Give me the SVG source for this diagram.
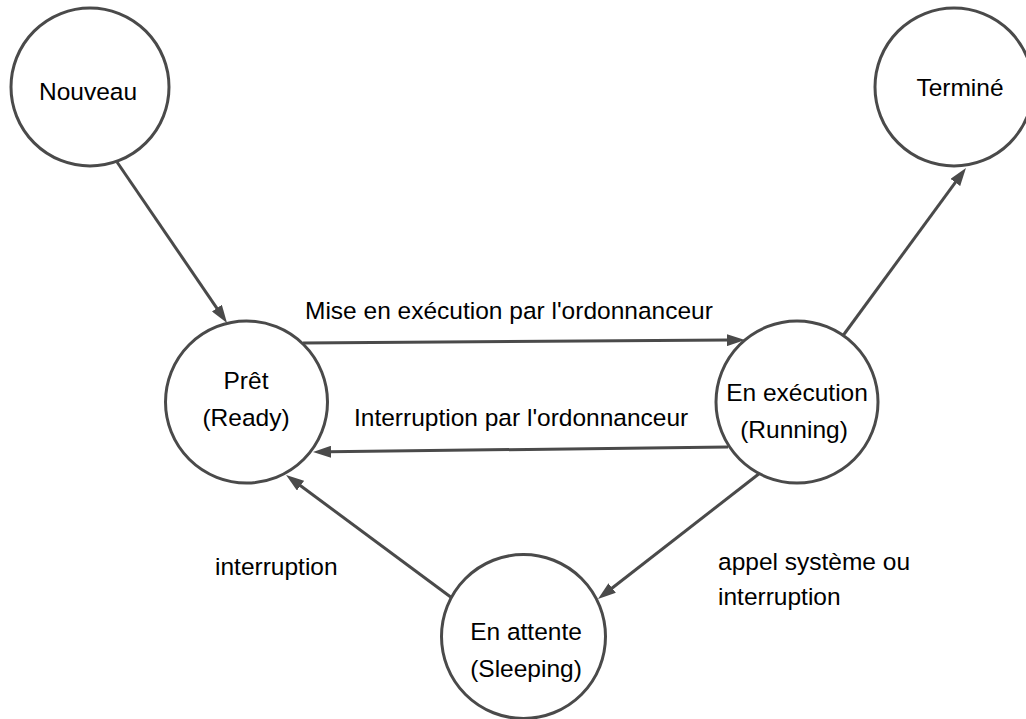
<svg xmlns="http://www.w3.org/2000/svg" width="1026" height="719" viewBox="0 0 1026 719">
<defs>
<style>
.node{fill:#fff;stroke:#4a4a4a;stroke-width:3}
.edge{fill:none;stroke:#4a4a4a;stroke-width:3}
text{font-family:"Liberation Sans",Arial,Helvetica,sans-serif;font-size:24.5px;fill:#000}
.c{text-anchor:middle}
</style>
<marker id="arr" markerUnits="userSpaceOnUse" markerWidth="18" markerHeight="12" refX="2" refY="6" orient="auto" viewBox="0 0 18 12">
<path d="M0,0 L18,6 L0,12 z" fill="#4a4a4a"/>
</marker>
</defs>
<rect width="1026" height="719" fill="#fff"/>
<g id="connectors">
<line class="edge" x1="117" y1="162" x2="218" y2="309.8" marker-end="url(#arr)"/>
<line class="edge" x1="842" y1="337" x2="956.5" y2="180.9" marker-end="url(#arr)"/>
<line class="edge" x1="452" y1="598" x2="298.9" y2="484.5" marker-end="url(#arr)"/>
<line class="edge" x1="760" y1="473" x2="610.6" y2="589.2" marker-end="url(#arr)"/>
<line class="edge" x1="303" y1="343" x2="729" y2="340.1" marker-end="url(#arr)"/>
<line class="edge" x1="728" y1="447" x2="329" y2="451.8" marker-end="url(#arr)"/>
<text x="305" y="319">Mise en exécution par l'ordonnanceur</text>
<text x="354" y="426">Interruption par l'ordonnanceur</text>
<text x="215" y="575">interruption</text>
<text x="718" y="570">appel système ou</text>
<text x="718" y="605">interruption</text>
</g>
<g id="nouveau">
<circle class="node" cx="90" cy="87" r="79"/>
<text class="c" x="88" y="100">Nouveau</text>
</g>
<g id="termine">
<circle class="node" cx="954" cy="87" r="79"/>
<text class="c" x="960" y="96">Terminé</text>
</g>
<g id="pret">
<circle class="node" cx="246.5" cy="402" r="81"/>
<text class="c" x="246" y="389">Prêt</text>
<text class="c" x="246" y="426">(Ready)</text>
</g>
<g id="execution">
<circle class="node" cx="797" cy="402" r="81"/>
<text class="c" x="797" y="401">En exécution</text>
<text class="c" x="794" y="438">(Running)</text>
</g>
<g id="attente">
<circle class="node" cx="523.5" cy="636.5" r="82"/>
<text class="c" x="526" y="640">En attente</text>
<text class="c" x="526" y="677">(Sleeping)</text>
</g>
</svg>
